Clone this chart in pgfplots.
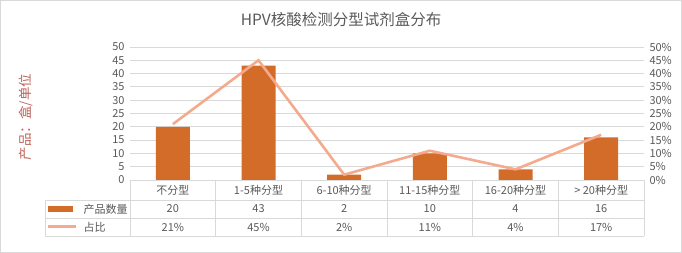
\documentclass[border=0pt]{standalone}
\usepackage{pgfplots}
\pgfplotsset{compat=1.18}
\usepackage{fontspec}
\setmainfont{Noto Sans CJK SC}
\definecolor{barc}{RGB}{210,108,40}
\definecolor{linec}{RGB}{244,170,140}
\definecolor{txt}{RGB}{89,89,89}
\definecolor{gridc}{RGB}{217,217,217}
\definecolor{ylab}{RGB}{188,100,92}
\begin{document}
\begin{tikzpicture}[x=1pt,y=1pt]
\useasboundingbox (0,0) rectangle (682,253);
\draw[gridc, line width=1pt] (0.5,0.5) rectangle (681.5,252.5);
% title
\node[text=txt, font=\fontsize{15.5}{17}\selectfont] at (341,233) {HPV核酸检测分型试剂盒分布};
% y label
\node[text=ylab, rotate=90, font=\fontsize{13.5}{15}\selectfont] at (26,136) {产品：盒/单位};
\begin{axis}[
  at={(130pt,73pt)}, anchor=south west,
  scale only axis, width=514pt, height=133pt,
  xmin=-0.5, xmax=5.5, ymin=0, ymax=50,
  ytick={0,5,...,50},
  yticklabels={0,5,10,15,20,25,30,35,40,45,50},
  xtick={0,1,2,3,4,5},
  xticklabels={不分型,1-5种分型,6-10种分型,11-15种分型,16-20种分型,> 20种分型},
  xticklabel style={anchor=center, yshift=-10pt},
  yticklabel style={anchor=east, xshift=-2pt},
  tick label style={font=\fontsize{11}{13}\selectfont, text=txt},
  major tick length=0pt,
  ymajorgrids, grid style={gridc, line width=0.8pt},
  axis line style={draw=none},
  clip=false,
  ybar, bar width=34pt,
]
\addplot[fill=barc, draw=none] coordinates {(0,20) (1,43) (2,2) (3,10) (4,4) (5,16)};
\end{axis}
\begin{axis}[
  at={(130pt,73pt)}, anchor=south west,
  scale only axis, width=514pt, height=133pt,
  xmin=-0.5, xmax=5.5, ymin=0, ymax=50,
  axis y line*=right, axis x line=none,
  ytick={0,5,...,50},
  yticklabels={0\%,5\%,10\%,15\%,20\%,25\%,30\%,35\%,40\%,45\%,50\%},
  yticklabel style={anchor=west, xshift=2pt},
  tick label style={font=\fontsize{11}{13}\selectfont, text=txt},
  major tick length=0pt,
  axis line style={draw=none},
  clip=false,
]
\addplot[linec, line width=2.6pt, no marks] coordinates {(0,21) (1,45) (2,2) (3,11) (4,4) (5,17)};
\end{axis}
% data table
\draw[gridc, line width=0.8pt] (130,73) -- (644,73);
\draw[gridc, line width=0.8pt] (45,53) -- (644,53);
\draw[gridc, line width=0.8pt] (45,35) -- (644,35);
\draw[gridc, line width=0.8pt] (45,17) -- (644,17);
\draw[gridc, line width=0.8pt] (45,53) -- (45,17);
\foreach \x in {130,215.67,301.33,387,472.67,558.33,644}
  \draw[gridc, line width=0.8pt] (\x,73) -- (\x,17);
\fill[barc] (48,41) rectangle (73,47);
\draw[linec, line width=3pt] (48,26) -- (76,26);
\begin{scope}[every node/.style={text=txt, font=\fontsize{11}{13}\selectfont}]
\node[anchor=west] at (80,44) {产品数量};
\node[anchor=west] at (80,26) {占比};
\node at (172.83,44) {20};
\node at (258.5,44) {43};
\node at (344.17,44) {2};
\node at (429.83,44) {10};
\node at (515.5,44) {4};
\node at (601.17,44) {16};
\node at (172.83,26) {21\%};
\node at (258.5,26) {45\%};
\node at (344.17,26) {2\%};
\node at (429.83,26) {11\%};
\node at (515.5,26) {4\%};
\node at (601.17,26) {17\%};
\end{scope}
\end{tikzpicture}
\end{document}
